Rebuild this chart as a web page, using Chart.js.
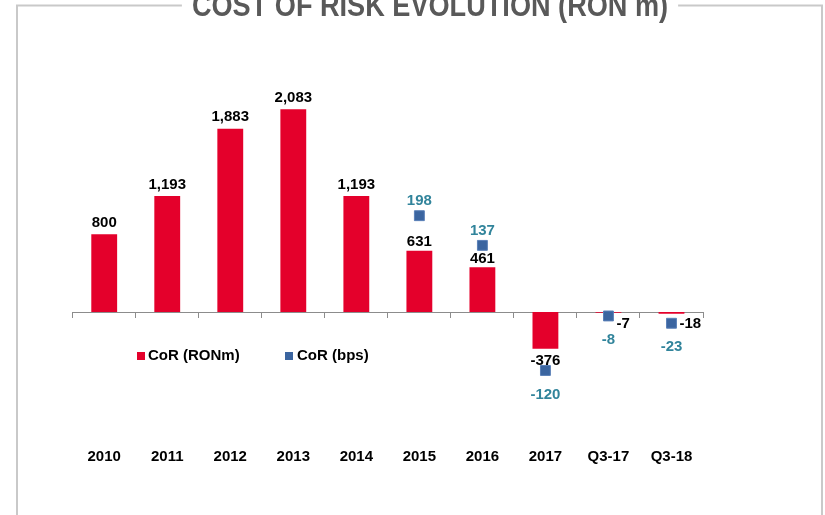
<!DOCTYPE html>
<html>
<head>
<meta charset="utf-8">
<script src="https://cdn.jsdelivr.net/npm/chart.js@4.4.1/dist/chart.umd.min.js"></script>
<style>
  body { margin: 0; background: #fff; }
  #box { width: 825px; height: 515px; }
</style>
</head>
<body>
<div id="box"><canvas id="cor"></canvas></div>
<script>
const categories = ['2010', '2011', '2012', '2013', '2014', '2015', '2016', '2017', 'Q3-17', 'Q3-18'];
const corRonM = [800, 1193, 1883, 2083, 1193, 631, 461, -376, -7, -18];
const corBps = [null, null, null, null, null, 198, 137, -120, -8, -23];
const titleText = 'COST OF RISK EVOLUTION (RON m)';

const RED = '#e4002b';
const BLUE = '#3b65a0';
const TEAL = '#31849b';
const FONT = '"Liberation Sans", Arial, sans-serif';

// frame + title, drawn behind the chart
const framePlugin = {
    id: 'frame',
    beforeDraw(chart) {
        const ctx = chart.ctx;
        ctx.save();
        ctx.font = 'bold 31px ' + FONT;
        const sx = 0.875;
        const w = ctx.measureText(titleText).width * sx;
        const cx = 430;
        ctx.strokeStyle = '#c9c9c9';
        ctx.lineWidth = 2;
        ctx.beginPath();
        ctx.moveTo(17, 520);
        ctx.lineTo(17, 5.5);
        ctx.lineTo(cx - w / 2 - 10, 5.5);
        ctx.moveTo(cx + w / 2 + 10, 5.5);
        ctx.lineTo(822, 5.5);
        ctx.lineTo(822, 520);
        ctx.stroke();
        ctx.fillStyle = '#595959';
        ctx.textAlign = 'center';
        ctx.textBaseline = 'alphabetic';
        ctx.translate(cx, 16);
        ctx.scale(sx, 1);
        ctx.fillText(titleText, 0, 0);
        ctx.restore();
    }
};

// value labels and the in-plot legend
const labelPlugin = {
    id: 'labels',
    afterDatasetsDraw(chart) {
        const ctx = chart.ctx;
        ctx.save();
        ctx.font = 'bold 15px ' + FONT;
        ctx.textAlign = 'center';

        const bars = chart.getDatasetMeta(0).data;
        bars.forEach((bar, i) => {
            const v = corRonM[i];
            const txt = Math.abs(v) >= 1000 ? v.toLocaleString('en-US') : String(v);
            ctx.fillStyle = '#000';
            if (Math.abs(bar.base - bar.y) < 10) {
                ctx.textAlign = 'left';
                ctx.textBaseline = 'middle';
                ctx.fillText(txt, bar.x + 8, bar.base + 12);
                ctx.textAlign = 'center';
            } else if (v >= 0) {
                ctx.textBaseline = 'bottom';
                ctx.fillText(txt, bar.x, bar.y - (i === 5 || i === 6 ? 1 : 4));
            } else {
                ctx.textBaseline = 'top';
                ctx.fillText(txt, bar.x, bar.y + 5);
            }
        });

        const pts = chart.getDatasetMeta(1).data;
        pts.forEach((pt, i) => {
            const v = corBps[i];
            if (v === null) return;
            ctx.fillStyle = TEAL;
            ctx.textBaseline = 'middle';
            if (v >= 0) ctx.fillText(String(v), pt.x, pt.y - 15);
            else ctx.fillText(String(v), pt.x, pt.y + 24);
        });

        // legend
        ctx.textAlign = 'left';
        ctx.textBaseline = 'middle';
        const ly = 356;
        ctx.fillStyle = RED;
        ctx.fillRect(137, ly - 4, 8, 8);
        ctx.fillStyle = '#000';
        ctx.fillText('CoR (RONm)', 148, ly);
        ctx.fillStyle = BLUE;
        ctx.fillRect(285, ly - 4, 8, 8);
        ctx.fillStyle = '#000';
        ctx.fillText('CoR (bps)', 297, ly);
        ctx.restore();
    }
};

new Chart(document.getElementById('cor'), {
    data: {
        labels: categories,
        datasets: [
            {
                type: 'bar',
                label: 'CoR (RONm)',
                data: corRonM,
                backgroundColor: RED,
                barPercentage: 0.41,
                categoryPercentage: 1,
                yAxisID: 'y',
                order: 2
            },
            {
                type: 'line',
                label: 'CoR (bps)',
                data: corBps,
                showLine: false,
                pointStyle: 'rect',
                pointRadius: 7,
                pointBackgroundColor: BLUE,
                pointBorderColor: '#5a80b8',
                pointBorderWidth: 1,
                yAxisID: 'y2',
                order: 1
            }
        ]
    },
    options: {
        responsive: true,
        maintainAspectRatio: false,
        animation: false,
        layout: { padding: { left: 72.7, right: 122, top: 39.5, bottom: 40.4 } },
        scales: {
            x: {
                offset: true,
                grid: { display: false, drawTicks: false },
                border: { display: false },
                ticks: { color: '#000', font: { family: FONT, size: 15, weight: 'bold' }, padding: 9, maxRotation: 0 }
            },
            xz: {
                type: 'category',
                axis: 'x',
                labels: categories,
                offset: true,
                position: { y: 0 },
                grid: { display: true, drawOnChartArea: false, drawTicks: true, tickLength: 5, offset: true, color: '#8c8c8c' },
                border: { display: true, color: '#8c8c8c', width: 1 },
                ticks: { display: false }
            },
            y: { display: false, min: -1300, max: 2800 },
            y2: { display: false, min: -260, max: 560 }
        },
        plugins: {
            legend: { display: false },
            tooltip: { enabled: false }
        }
    },
    plugins: [framePlugin, labelPlugin]
});
</script>
</body>
</html>
